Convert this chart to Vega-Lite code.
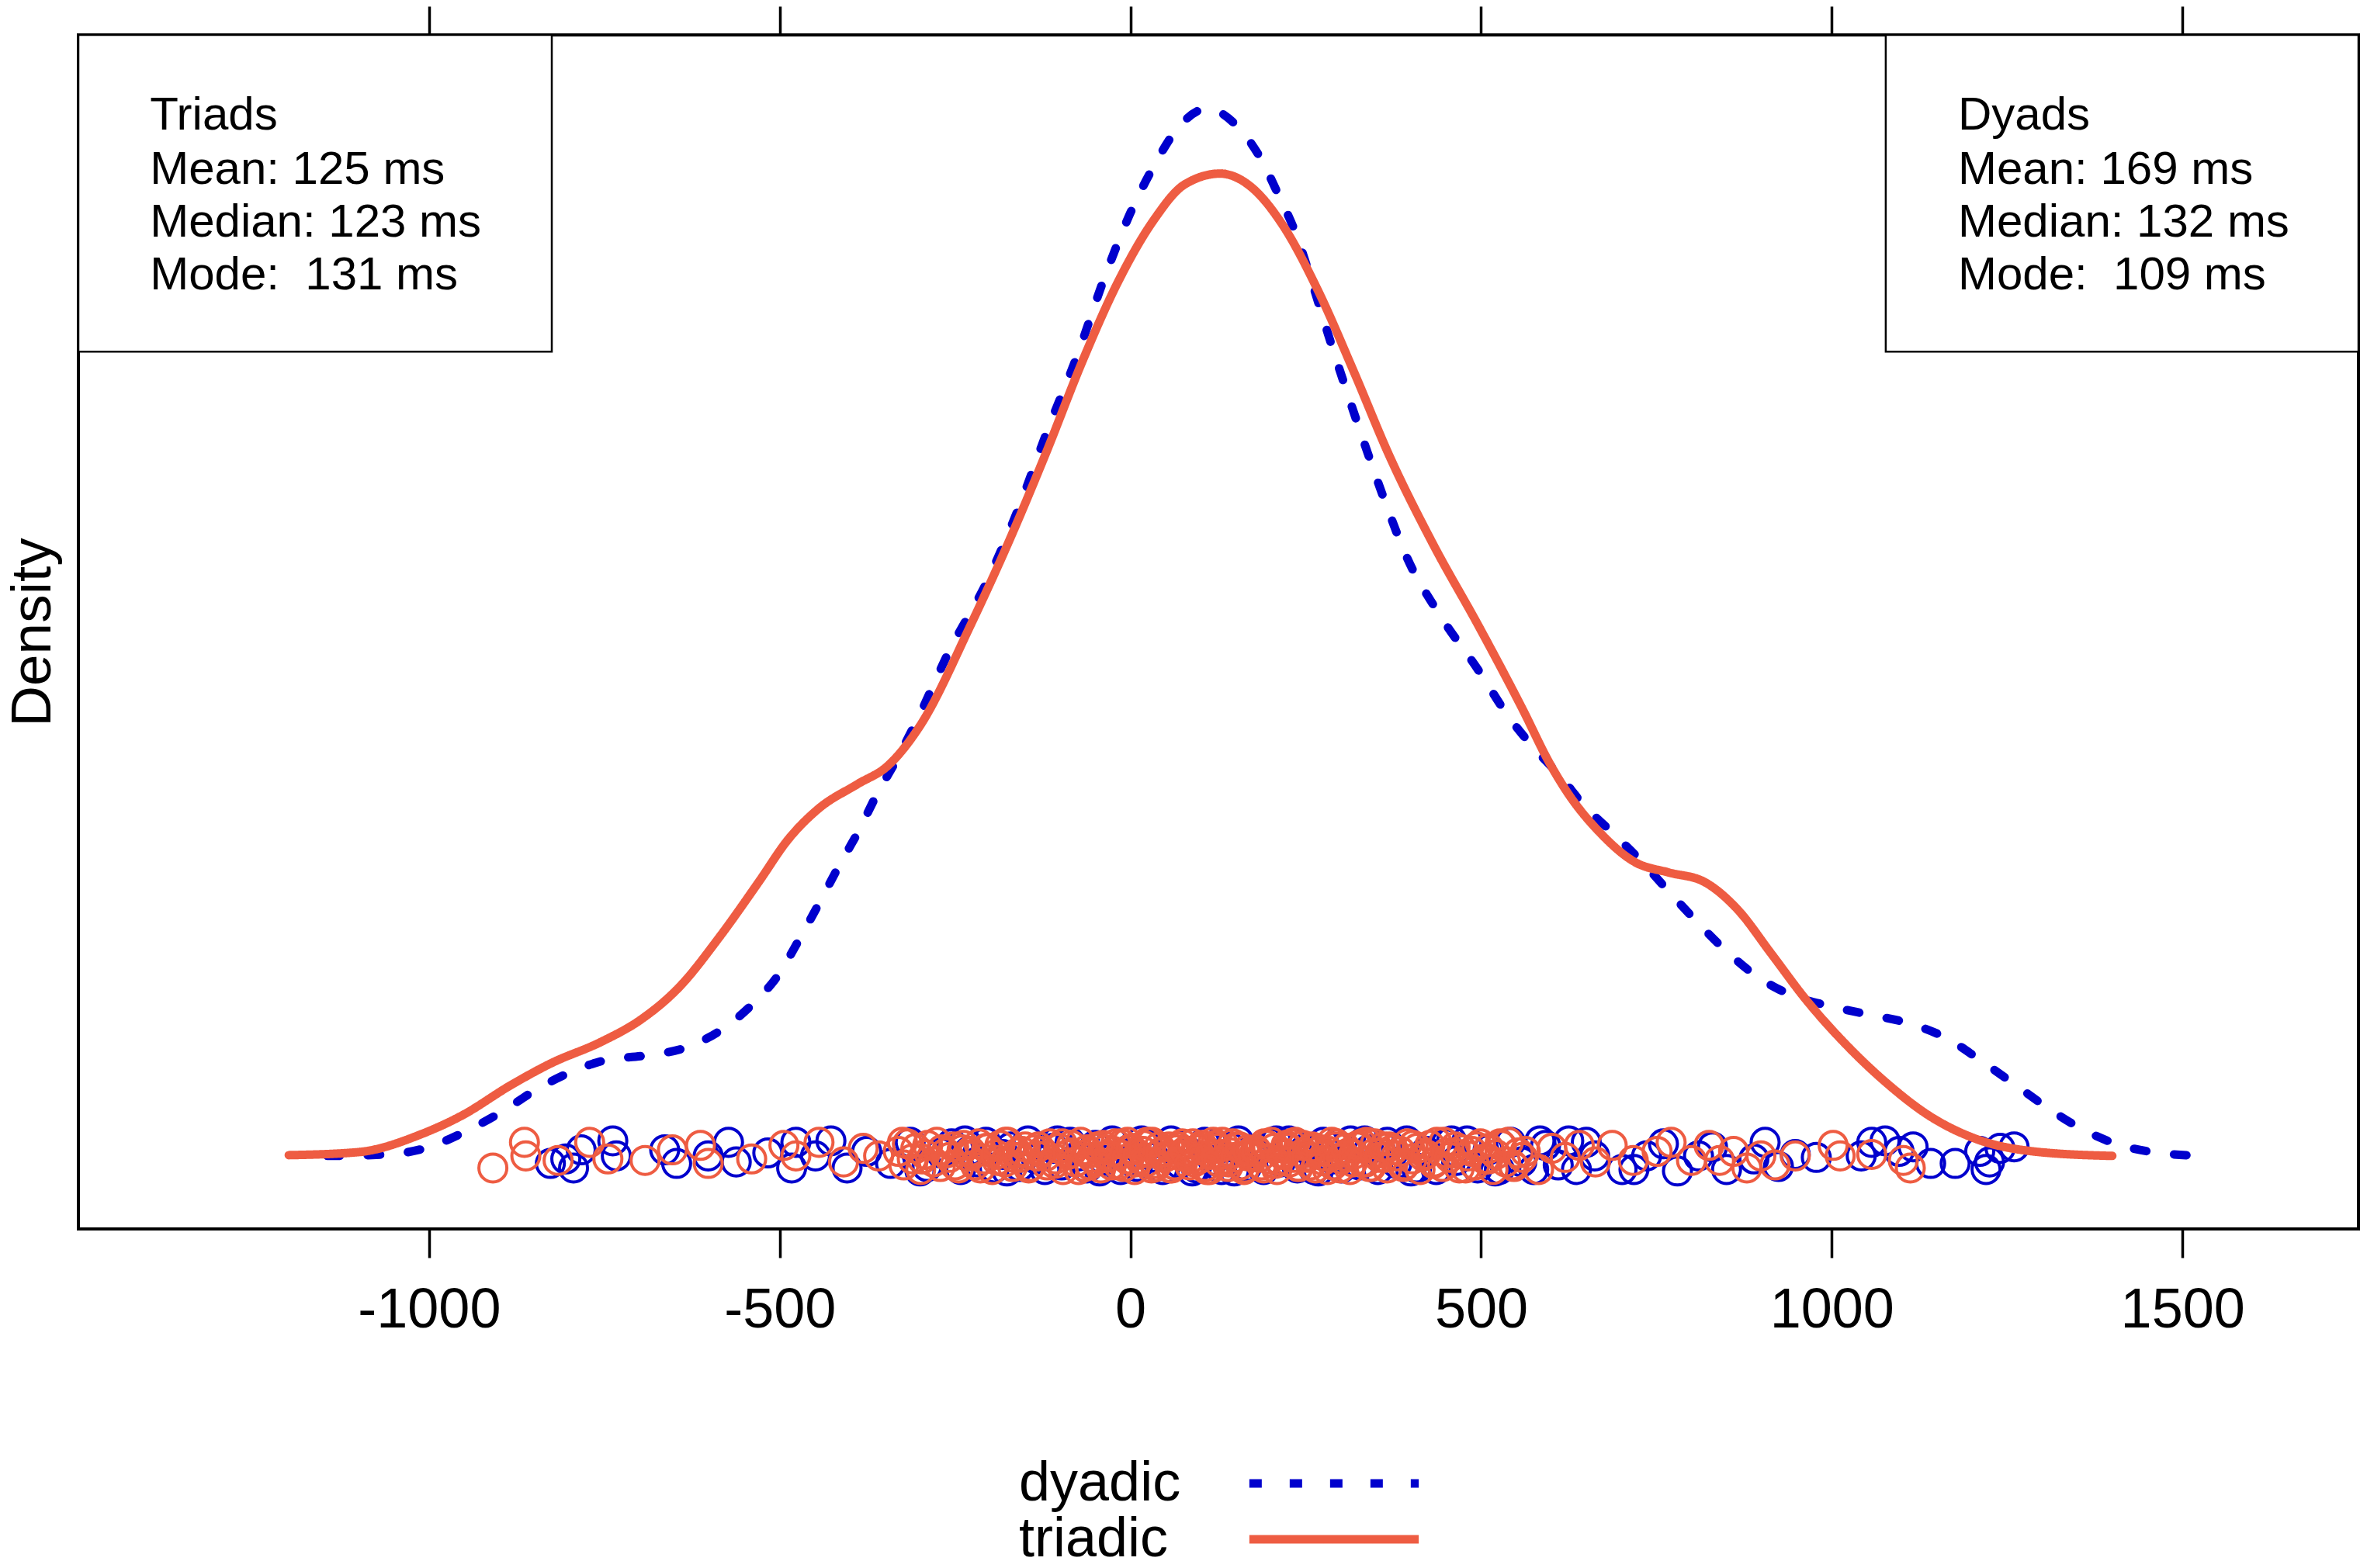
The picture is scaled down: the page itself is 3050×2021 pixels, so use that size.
{
  "$schema": "https://vega.github.io/schema/vega-lite/v6.json",
  "width": 2938,
  "height": 1539,
  "autosize": "none",
  "padding": {"left": 101, "top": 45, "right": 11, "bottom": 437},
  "datasets": {
    "boxes": [
      {"x0": -1500, "x1": -825, "y0": 533, "y1": 742.9},
      {"x0": 1077, "x1": 1751, "y0": 533, "y1": 742.9}
    ],
    "notes": [
      {"t": "Triads", "x": -1398, "y": 680},
      {"t": "Mean: 125 ms", "x": -1398, "y": 644},
      {"t": "Median: 123 ms", "x": -1398, "y": 609},
      {"t": "Mode:\u00a0 131 ms", "x": -1398, "y": 574},
      {"t": "Dyads", "x": 1180, "y": 680},
      {"t": "Mean: 169 ms", "x": 1180, "y": 644},
      {"t": "Median: 132 ms", "x": 1180, "y": 609},
      {"t": "Mode:\u00a0 109 ms", "x": 1180, "y": 574}
    ],
    "curves": [
      {"g": "dyadic", "x": -1145, "d": 0},
      {"g": "dyadic", "x": -1059, "d": 1},
      {"g": "dyadic", "x": -1002, "d": 5.6},
      {"g": "dyadic", "x": -946, "d": 16.7},
      {"g": "dyadic", "x": -897, "d": 29},
      {"g": "dyadic", "x": -847, "d": 44},
      {"g": "dyadic", "x": -798, "d": 55.5},
      {"g": "dyadic", "x": -749, "d": 63.4},
      {"g": "dyadic", "x": -692, "d": 66.5},
      {"g": "dyadic", "x": -636, "d": 71.5},
      {"g": "dyadic", "x": -586, "d": 82.7},
      {"g": "dyadic", "x": -540, "d": 100},
      {"g": "dyadic", "x": -502, "d": 120},
      {"g": "dyadic", "x": -473, "d": 142.8},
      {"g": "dyadic", "x": -442, "d": 169},
      {"g": "dyadic", "x": -414, "d": 193.5},
      {"g": "dyadic", "x": -389, "d": 214},
      {"g": "dyadic", "x": -361, "d": 240},
      {"g": "dyadic", "x": -334, "d": 262},
      {"g": "dyadic", "x": -304, "d": 289},
      {"g": "dyadic", "x": -259, "d": 333.9},
      {"g": "dyadic", "x": -202, "d": 383},
      {"g": "dyadic", "x": -158, "d": 431},
      {"g": "dyadic", "x": -120, "d": 478.6},
      {"g": "dyadic", "x": -75, "d": 531.5},
      {"g": "dyadic", "x": -37, "d": 582},
      {"g": "dyadic", "x": 1, "d": 626},
      {"g": "dyadic", "x": 33, "d": 655.6},
      {"g": "dyadic", "x": 64, "d": 679},
      {"g": "dyadic", "x": 109, "d": 694},
      {"g": "dyadic", "x": 153, "d": 682},
      {"g": "dyadic", "x": 185, "d": 661.6},
      {"g": "dyadic", "x": 210, "d": 638},
      {"g": "dyadic", "x": 236, "d": 611},
      {"g": "dyadic", "x": 255, "d": 584.7},
      {"g": "dyadic", "x": 286.6, "d": 537.7},
      {"g": "dyadic", "x": 324.6, "d": 484.4},
      {"g": "dyadic", "x": 362.8, "d": 434},
      {"g": "dyadic", "x": 395, "d": 395.8},
      {"g": "dyadic", "x": 439, "d": 360},
      {"g": "dyadic", "x": 496, "d": 322},
      {"g": "dyadic", "x": 541, "d": 289.9},
      {"g": "dyadic", "x": 573, "d": 271.6},
      {"g": "dyadic", "x": 614, "d": 251},
      {"g": "dyadic", "x": 646, "d": 232.6},
      {"g": "dyadic", "x": 687, "d": 214.3},
      {"g": "dyadic", "x": 727.5, "d": 195.8},
      {"g": "dyadic", "x": 767.7, "d": 175.2},
      {"g": "dyadic", "x": 808.6, "d": 154.7},
      {"g": "dyadic", "x": 849, "d": 136},
      {"g": "dyadic", "x": 897, "d": 117.8},
      {"g": "dyadic", "x": 946, "d": 106},
      {"g": "dyadic", "x": 995, "d": 99.5},
      {"g": "dyadic", "x": 1052, "d": 93.7},
      {"g": "dyadic", "x": 1109, "d": 88},
      {"g": "dyadic", "x": 1165, "d": 77.7},
      {"g": "dyadic", "x": 1214, "d": 62.7},
      {"g": "dyadic", "x": 1263, "d": 46.7},
      {"g": "dyadic", "x": 1311, "d": 30.8},
      {"g": "dyadic", "x": 1360, "d": 17},
      {"g": "dyadic", "x": 1408, "d": 7.6},
      {"g": "dyadic", "x": 1466, "d": 2},
      {"g": "dyadic", "x": 1530, "d": 0},
      {"g": "triadic", "x": -1200, "d": 0.5},
      {"g": "triadic", "x": -1101, "d": 2.5},
      {"g": "triadic", "x": -1010, "d": 14.6},
      {"g": "triadic", "x": -953, "d": 26.8},
      {"g": "triadic", "x": -883, "d": 47},
      {"g": "triadic", "x": -826, "d": 61.4},
      {"g": "triadic", "x": -755, "d": 75.5},
      {"g": "triadic", "x": -699, "d": 90},
      {"g": "triadic", "x": -643, "d": 112},
      {"g": "triadic", "x": -586, "d": 145},
      {"g": "triadic", "x": -530, "d": 181.5},
      {"g": "triadic", "x": -488, "d": 209.7},
      {"g": "triadic", "x": -445, "d": 230},
      {"g": "triadic", "x": -389, "d": 246.4},
      {"g": "triadic", "x": -346, "d": 258.5},
      {"g": "triadic", "x": -300, "d": 285},
      {"g": "triadic", "x": -228, "d": 351.6},
      {"g": "triadic", "x": -170, "d": 410.7},
      {"g": "triadic", "x": -119.5, "d": 466.8},
      {"g": "triadic", "x": -69, "d": 526},
      {"g": "triadic", "x": -18, "d": 578.9},
      {"g": "triadic", "x": 33, "d": 620},
      {"g": "triadic", "x": 77, "d": 643.7},
      {"g": "triadic", "x": 128, "d": 651},
      {"g": "triadic", "x": 172.5, "d": 642},
      {"g": "triadic", "x": 217, "d": 617},
      {"g": "triadic", "x": 268, "d": 573},
      {"g": "triadic", "x": 318.6, "d": 519.7},
      {"g": "triadic", "x": 369.5, "d": 463.7},
      {"g": "triadic", "x": 432.5, "d": 404.6},
      {"g": "triadic", "x": 496, "d": 351.6},
      {"g": "triadic", "x": 559.7, "d": 295.6},
      {"g": "triadic", "x": 598, "d": 260},
      {"g": "triadic", "x": 621.7, "d": 241.8},
      {"g": "triadic", "x": 670, "d": 214},
      {"g": "triadic", "x": 719, "d": 194.8},
      {"g": "triadic", "x": 767.7, "d": 187.8},
      {"g": "triadic", "x": 816.6, "d": 182},
      {"g": "triadic", "x": 865, "d": 163.7},
      {"g": "triadic", "x": 914, "d": 133.9},
      {"g": "triadic", "x": 962.5, "d": 104},
      {"g": "triadic", "x": 1019.5, "d": 74.2},
      {"g": "triadic", "x": 1076.5, "d": 49},
      {"g": "triadic", "x": 1141, "d": 26},
      {"g": "triadic", "x": 1206, "d": 11.2},
      {"g": "triadic", "x": 1287, "d": 3},
      {"g": "triadic", "x": 1400, "d": 0}
    ],
    "rug": [
      {"g": "dyadic", "x": -827, "j": -5}, {"g": "dyadic", "x": -805, "j": -2}, {"g": "dyadic", "x": -794, "j": -8},
      {"g": "dyadic", "x": -783, "j": 4}, {"g": "dyadic", "x": -738, "j": 10}, {"g": "dyadic", "x": -733, "j": 0},
      {"g": "dyadic", "x": -664, "j": 4}, {"g": "dyadic", "x": -647, "j": -5}, {"g": "dyadic", "x": -602, "j": 0},
      {"g": "dyadic", "x": -573, "j": 9}, {"g": "dyadic", "x": -562, "j": -4}, {"g": "dyadic", "x": -517, "j": 2},
      {"g": "dyadic", "x": -483, "j": -8}, {"g": "dyadic", "x": -477, "j": 9}, {"g": "dyadic", "x": -449, "j": 0},
      {"g": "dyadic", "x": -427, "j": 10}, {"g": "dyadic", "x": -404, "j": -8}, {"g": "dyadic", "x": -376, "j": 3},
      {"g": "dyadic", "x": -342, "j": -5}, {"g": "dyadic", "x": -314, "j": 9}, {"g": "dyadic", "x": -290, "j": -7},
      {"g": "dyadic", "x": -270, "j": 2}, {"g": "dyadic", "x": -255, "j": 8}, {"g": "dyadic", "x": -242, "j": -9},
      {"g": "dyadic", "x": -230, "j": 3}, {"g": "dyadic", "x": -218, "j": -4}, {"g": "dyadic", "x": -206, "j": 9},
      {"g": "dyadic", "x": -194, "j": -8}, {"g": "dyadic", "x": -182, "j": 1}, {"g": "dyadic", "x": -170, "j": 6},
      {"g": "dyadic", "x": -158, "j": -7}, {"g": "dyadic", "x": -146, "j": 10}, {"g": "dyadic", "x": -134, "j": -2},
      {"g": "dyadic", "x": -122, "j": -9}, {"g": "dyadic", "x": -110, "j": 5}, {"g": "dyadic", "x": -98, "j": -6},
      {"g": "dyadic", "x": -86, "j": 9}, {"g": "dyadic", "x": -74, "j": 0}, {"g": "dyadic", "x": -62, "j": -8},
      {"g": "dyadic", "x": -50, "j": 7}, {"g": "dyadic", "x": -38, "j": -3}, {"g": "dyadic", "x": -26, "j": 10},
      {"g": "dyadic", "x": -14, "j": -9}, {"g": "dyadic", "x": -2, "j": 4}, {"g": "dyadic", "x": 10, "j": -7},
      {"g": "dyadic", "x": 22, "j": 8}, {"g": "dyadic", "x": 34, "j": -1}, {"g": "dyadic", "x": 46, "j": -9},
      {"g": "dyadic", "x": 58, "j": 10}, {"g": "dyadic", "x": 70, "j": -5}, {"g": "dyadic", "x": 82, "j": 3},
      {"g": "dyadic", "x": 94, "j": -8}, {"g": "dyadic", "x": 106, "j": 9}, {"g": "dyadic", "x": 118, "j": -3},
      {"g": "dyadic", "x": 130, "j": -9}, {"g": "dyadic", "x": 142, "j": 6}, {"g": "dyadic", "x": 154, "j": 10},
      {"g": "dyadic", "x": 166, "j": -7}, {"g": "dyadic", "x": 178, "j": 2}, {"g": "dyadic", "x": 190, "j": -9},
      {"g": "dyadic", "x": 202, "j": 8}, {"g": "dyadic", "x": 214, "j": -4}, {"g": "dyadic", "x": 226, "j": 10},
      {"g": "dyadic", "x": 238, "j": -8}, {"g": "dyadic", "x": 250, "j": 5}, {"g": "dyadic", "x": 262, "j": -9},
      {"g": "dyadic", "x": 275, "j": 9}, {"g": "dyadic", "x": 288, "j": -2}, {"g": "dyadic", "x": 301, "j": -8},
      {"g": "dyadic", "x": 314, "j": 10}, {"g": "dyadic", "x": 327, "j": -6}, {"g": "dyadic", "x": 340, "j": 4},
      {"g": "dyadic", "x": 353, "j": -9}, {"g": "dyadic", "x": 366, "j": 9}, {"g": "dyadic", "x": 380, "j": -5},
      {"g": "dyadic", "x": 394, "j": 10}, {"g": "dyadic", "x": 408, "j": -8}, {"g": "dyadic", "x": 422, "j": 3},
      {"g": "dyadic", "x": 436, "j": -9}, {"g": "dyadic", "x": 450, "j": 8}, {"g": "dyadic", "x": 465, "j": -3},
      {"g": "dyadic", "x": 480, "j": 10}, {"g": "dyadic", "x": 495, "j": -8}, {"g": "dyadic", "x": 510, "j": 4},
      {"g": "dyadic", "x": 526, "j": -9}, {"g": "dyadic", "x": 542, "j": 9}, {"g": "dyadic", "x": 558, "j": -4},
      {"g": "dyadic", "x": 575, "j": -9}, {"g": "dyadic", "x": 592, "j": 7}, {"g": "dyadic", "x": 610, "j": -6},
      {"g": "dyadic", "x": 625, "j": 10}, {"g": "dyadic", "x": 636, "j": -9}, {"g": "dyadic", "x": 662, "j": 0},
      {"g": "dyadic", "x": 701, "j": -9}, {"g": "dyadic", "x": 736, "j": 0}, {"g": "dyadic", "x": 780, "j": -10},
      {"g": "dyadic", "x": 810, "j": 0}, {"g": "dyadic", "x": 850, "j": -9}, {"g": "dyadic", "x": 889, "j": -2},
      {"g": "dyadic", "x": 924, "j": -7}, {"g": "dyadic", "x": 948, "j": 1}, {"g": "dyadic", "x": 978, "j": -1},
      {"g": "dyadic", "x": 1042, "j": 0}, {"g": "dyadic", "x": 1057, "j": 9}, {"g": "dyadic", "x": 1076, "j": 10},
      {"g": "dyadic", "x": 1096, "j": 3}, {"g": "dyadic", "x": 1116, "j": 6}, {"g": "dyadic", "x": 1141, "j": -5},
      {"g": "dyadic", "x": 1176, "j": -5}, {"g": "dyadic", "x": 1211, "j": 3}, {"g": "dyadic", "x": 1220, "j": -9},
      {"g": "dyadic", "x": 1225, "j": -4}, {"g": "dyadic", "x": 1240, "j": 5}, {"g": "dyadic", "x": 1260, "j": 6},
      {"g": "dyadic", "x": -300, "j": -10}, {"g": "dyadic", "x": -236, "j": 10}, {"g": "dyadic", "x": -176, "j": -10},
      {"g": "dyadic", "x": -104, "j": 10}, {"g": "dyadic", "x": -44, "j": -10}, {"g": "dyadic", "x": 16, "j": 10},
      {"g": "dyadic", "x": 88, "j": -10}, {"g": "dyadic", "x": 148, "j": -10}, {"g": "dyadic", "x": 208, "j": 10},
      {"g": "dyadic", "x": 268, "j": -10}, {"g": "dyadic", "x": 334, "j": 10}, {"g": "dyadic", "x": 400, "j": -10},
      {"g": "dyadic", "x": 458, "j": 10}, {"g": "dyadic", "x": 520, "j": -10}, {"g": "dyadic", "x": 584, "j": 10},
      {"g": "dyadic", "x": 650, "j": 9}, {"g": "dyadic", "x": 718, "j": -9}, {"g": "dyadic", "x": 760, "j": 8},
      {"g": "dyadic", "x": 830, "j": 6}, {"g": "dyadic", "x": 905, "j": 9},
      {"g": "triadic", "x": -909, "j": -8}, {"g": "triadic", "x": -864, "j": 9}, {"g": "triadic", "x": -862, "j": 0},
      {"g": "triadic", "x": -816, "j": -3}, {"g": "triadic", "x": -771, "j": 9}, {"g": "triadic", "x": -745, "j": -2},
      {"g": "triadic", "x": -692, "j": -3}, {"g": "triadic", "x": -653, "j": 4}, {"g": "triadic", "x": -613, "j": 7},
      {"g": "triadic", "x": -602, "j": -5}, {"g": "triadic", "x": -540, "j": -2}, {"g": "triadic", "x": -494, "j": 7},
      {"g": "triadic", "x": -477, "j": 0}, {"g": "triadic", "x": -444, "j": 9}, {"g": "triadic", "x": -409, "j": -4},
      {"g": "triadic", "x": -381, "j": 5}, {"g": "triadic", "x": -359, "j": 0}, {"g": "triadic", "x": -325, "j": 9},
      {"g": "triadic", "x": -297, "j": -2}, {"g": "triadic", "x": -269, "j": 4}, {"g": "triadic", "x": -250, "j": -6},
      {"g": "triadic", "x": -238, "j": 7}, {"g": "triadic", "x": -225, "j": 1}, {"g": "triadic", "x": -214, "j": -8},
      {"g": "triadic", "x": -203, "j": 5}, {"g": "triadic", "x": -190, "j": -3}, {"g": "triadic", "x": -178, "j": 9},
      {"g": "triadic", "x": -166, "j": -1}, {"g": "triadic", "x": -155, "j": 3}, {"g": "triadic", "x": -143, "j": -7},
      {"g": "triadic", "x": -131, "j": 6}, {"g": "triadic", "x": -120, "j": 0}, {"g": "triadic", "x": -108, "j": -5},
      {"g": "triadic", "x": -97, "j": 8}, {"g": "triadic", "x": -85, "j": 2}, {"g": "triadic", "x": -74, "j": -9},
      {"g": "triadic", "x": -62, "j": 4}, {"g": "triadic", "x": -58, "j": -6}, {"g": "triadic", "x": -50, "j": -3},
      {"g": "triadic", "x": -45, "j": 5}, {"g": "triadic", "x": -39, "j": 7}, {"g": "triadic", "x": -33, "j": -1},
      {"g": "triadic", "x": -27, "j": -6}, {"g": "triadic", "x": -21, "j": 8}, {"g": "triadic", "x": -15, "j": 1},
      {"g": "triadic", "x": -9, "j": -7}, {"g": "triadic", "x": -4, "j": 9}, {"g": "triadic", "x": 2, "j": 4},
      {"g": "triadic", "x": 7, "j": -4}, {"g": "triadic", "x": 13, "j": -2}, {"g": "triadic", "x": 18, "j": 3},
      {"g": "triadic", "x": 24, "j": 9}, {"g": "triadic", "x": 30, "j": -8}, {"g": "triadic", "x": 35, "j": -5},
      {"g": "triadic", "x": 41, "j": 6}, {"g": "triadic", "x": 46, "j": 3}, {"g": "triadic", "x": 52, "j": 0},
      {"g": "triadic", "x": 57, "j": -8}, {"g": "triadic", "x": 63, "j": -6}, {"g": "triadic", "x": 68, "j": 6},
      {"g": "triadic", "x": 74, "j": 8}, {"g": "triadic", "x": 80, "j": 1}, {"g": "triadic", "x": 85, "j": -2},
      {"g": "triadic", "x": 91, "j": -4}, {"g": "triadic", "x": 96, "j": 4}, {"g": "triadic", "x": 102, "j": 7},
      {"g": "triadic", "x": 107, "j": -7}, {"g": "triadic", "x": 113, "j": -9}, {"g": "triadic", "x": 118, "j": 9},
      {"g": "triadic", "x": 124, "j": 5}, {"g": "triadic", "x": 129, "j": 1}, {"g": "triadic", "x": 135, "j": -2},
      {"g": "triadic", "x": 140, "j": -4}, {"g": "triadic", "x": 146, "j": 8}, {"g": "triadic", "x": 151, "j": 6},
      {"g": "triadic", "x": 157, "j": -6}, {"g": "triadic", "x": 162, "j": -9}, {"g": "triadic", "x": 168, "j": 0},
      {"g": "triadic", "x": 173, "j": 3}, {"g": "triadic", "x": 179, "j": 4}, {"g": "triadic", "x": 184, "j": -1},
      {"g": "triadic", "x": 190, "j": -8}, {"g": "triadic", "x": 195, "j": 7}, {"g": "triadic", "x": 201, "j": 9},
      {"g": "triadic", "x": 206, "j": -5}, {"g": "triadic", "x": 212, "j": -3}, {"g": "triadic", "x": 217, "j": 2},
      {"g": "triadic", "x": 223, "j": 5}, {"g": "triadic", "x": 229, "j": 8}, {"g": "triadic", "x": 234, "j": -1},
      {"g": "triadic", "x": 240, "j": -7}, {"g": "triadic", "x": 246, "j": 7}, {"g": "triadic", "x": 251, "j": 0},
      {"g": "triadic", "x": 257, "j": -6}, {"g": "triadic", "x": 263, "j": 5}, {"g": "triadic", "x": 269, "j": 3},
      {"g": "triadic", "x": 275, "j": -3}, {"g": "triadic", "x": 281, "j": -9}, {"g": "triadic", "x": 287, "j": 9},
      {"g": "triadic", "x": 293, "j": 6}, {"g": "triadic", "x": 299, "j": -8}, {"g": "triadic", "x": 305, "j": 0},
      {"g": "triadic", "x": 311, "j": 2}, {"g": "triadic", "x": 317, "j": -4}, {"g": "triadic", "x": 323, "j": 6},
      {"g": "triadic", "x": 330, "j": 8}, {"g": "triadic", "x": 336, "j": -4}, {"g": "triadic", "x": 343, "j": -7},
      {"g": "triadic", "x": 349, "j": 8}, {"g": "triadic", "x": 356, "j": 2}, {"g": "triadic", "x": 362, "j": -1},
      {"g": "triadic", "x": 369, "j": 6}, {"g": "triadic", "x": 375, "j": 4}, {"g": "triadic", "x": 389, "j": -7},
      {"g": "triadic", "x": 403, "j": 7}, {"g": "triadic", "x": 417, "j": 0}, {"g": "triadic", "x": 432, "j": -5},
      {"g": "triadic", "x": 447, "j": 9}, {"g": "triadic", "x": 462, "j": 2}, {"g": "triadic", "x": 478, "j": -8},
      {"g": "triadic", "x": 494, "j": 6}, {"g": "triadic", "x": 510, "j": -2}, {"g": "triadic", "x": 527, "j": 8},
      {"g": "triadic", "x": 545, "j": -6}, {"g": "triadic", "x": 563, "j": 3}, {"g": "triadic", "x": 582, "j": -9},
      {"g": "triadic", "x": 601, "j": 5}, {"g": "triadic", "x": 620, "j": -1}, {"g": "triadic", "x": 640, "j": 7},
      {"g": "triadic", "x": 663, "j": -4}, {"g": "triadic", "x": 687, "j": 7}, {"g": "triadic", "x": 717, "j": -3},
      {"g": "triadic", "x": 751, "j": 3}, {"g": "triadic", "x": 771, "j": 9}, {"g": "triadic", "x": 800, "j": -3},
      {"g": "triadic", "x": 825, "j": 7}, {"g": "triadic", "x": 840, "j": -3}, {"g": "triadic", "x": 860, "j": 3},
      {"g": "triadic", "x": 879, "j": -8}, {"g": "triadic", "x": 899, "j": 0}, {"g": "triadic", "x": 919, "j": -6},
      {"g": "triadic", "x": 948, "j": 0}, {"g": "triadic", "x": 1002, "j": 7}, {"g": "triadic", "x": 1012, "j": 0},
      {"g": "triadic", "x": 1057, "j": 1}, {"g": "triadic", "x": 1102, "j": -3}, {"g": "triadic", "x": 1112, "j": -8},
      {"g": "triadic", "x": -331, "j": 3}, {"g": "triadic", "x": -323, "j": -6}, {"g": "triadic", "x": -318, "j": 8},
      {"g": "triadic", "x": -311, "j": -2}, {"g": "triadic", "x": -306, "j": 5}, {"g": "triadic", "x": -299, "j": -9},
      {"g": "triadic", "x": -293, "j": 1}, {"g": "triadic", "x": -289, "j": 7}, {"g": "triadic", "x": -281, "j": -4},
      {"g": "triadic", "x": -276, "j": 9}, {"g": "triadic", "x": -271, "j": -7}, {"g": "triadic", "x": -263, "j": 2},
      {"g": "triadic", "x": -258, "j": -1}, {"g": "triadic", "x": -252, "j": 6}, {"g": "triadic", "x": -245, "j": -8},
      {"g": "triadic", "x": -240, "j": 4}, {"g": "triadic", "x": -233, "j": 0}, {"g": "triadic", "x": -228, "j": 3},
      {"g": "triadic", "x": -221, "j": -6}, {"g": "triadic", "x": -216, "j": 8}, {"g": "triadic", "x": -209, "j": -2},
      {"g": "triadic", "x": -205, "j": 5}, {"g": "triadic", "x": -197, "j": -9}, {"g": "triadic", "x": -192, "j": 1},
      {"g": "triadic", "x": -186, "j": 7}, {"g": "triadic", "x": -179, "j": -4}, {"g": "triadic", "x": -175, "j": 9},
      {"g": "triadic", "x": -168, "j": -7}, {"g": "triadic", "x": -161, "j": 2}, {"g": "triadic", "x": -157, "j": -1},
      {"g": "triadic", "x": -150, "j": 6}, {"g": "triadic", "x": -145, "j": -8}, {"g": "triadic", "x": -137, "j": 4},
      {"g": "triadic", "x": -133, "j": 0}, {"g": "triadic", "x": -126, "j": 3}, {"g": "triadic", "x": -119, "j": -6},
      {"g": "triadic", "x": -115, "j": 8}, {"g": "triadic", "x": -107, "j": -2}, {"g": "triadic", "x": -102, "j": 5},
      {"g": "triadic", "x": -96, "j": -9}, {"g": "triadic", "x": -89, "j": 1}, {"g": "triadic", "x": -84, "j": 7},
      {"g": "triadic", "x": -78, "j": -4}, {"g": "triadic", "x": -71, "j": 9}, {"g": "triadic", "x": -66, "j": -7},
      {"g": "triadic", "x": -59, "j": 2}, {"g": "triadic", "x": -55, "j": -1}, {"g": "triadic", "x": -47, "j": 6},
      {"g": "triadic", "x": -42, "j": -8}, {"g": "triadic", "x": -36, "j": 4}, {"g": "triadic", "x": -29, "j": 0},
      {"g": "triadic", "x": -24, "j": 3}, {"g": "triadic", "x": -17, "j": -6}, {"g": "triadic", "x": -12, "j": 8},
      {"g": "triadic", "x": -5, "j": -2}, {"g": "triadic", "x": 1, "j": 5}, {"g": "triadic", "x": 6, "j": -9},
      {"g": "triadic", "x": 11, "j": 1}, {"g": "triadic", "x": 19, "j": 7}, {"g": "triadic", "x": 23, "j": -4},
      {"g": "triadic", "x": 31, "j": 9}, {"g": "triadic", "x": 36, "j": -7}, {"g": "triadic", "x": 43, "j": 2},
      {"g": "triadic", "x": 48, "j": -1}, {"g": "triadic", "x": 55, "j": 6}, {"g": "triadic", "x": 59, "j": -8},
      {"g": "triadic", "x": 66, "j": 4}, {"g": "triadic", "x": 73, "j": 0}, {"g": "triadic", "x": 78, "j": 3},
      {"g": "triadic", "x": 84, "j": -6}, {"g": "triadic", "x": 89, "j": 8}, {"g": "triadic", "x": 97, "j": -2},
      {"g": "triadic", "x": 101, "j": 5}, {"g": "triadic", "x": 109, "j": -9}, {"g": "triadic", "x": 114, "j": 1},
      {"g": "triadic", "x": 121, "j": 7}, {"g": "triadic", "x": 126, "j": -4}, {"g": "triadic", "x": 131, "j": 9},
      {"g": "triadic", "x": 139, "j": -7}, {"g": "triadic", "x": 143, "j": 2}, {"g": "triadic", "x": 150, "j": -1},
      {"g": "triadic", "x": 156, "j": 6}, {"g": "triadic", "x": 163, "j": -8}, {"g": "triadic", "x": 167, "j": 4},
      {"g": "triadic", "x": 175, "j": 0}, {"g": "triadic", "x": 180, "j": 3}, {"g": "triadic", "x": 187, "j": -6},
      {"g": "triadic", "x": 191, "j": 8}, {"g": "triadic", "x": 198, "j": -2}, {"g": "triadic", "x": 205, "j": 5},
      {"g": "triadic", "x": 209, "j": -9}, {"g": "triadic", "x": 216, "j": 1}, {"g": "triadic", "x": 222, "j": 7},
      {"g": "triadic", "x": 227, "j": -4}, {"g": "triadic", "x": 235, "j": 9}, {"g": "triadic", "x": 239, "j": -7},
      {"g": "triadic", "x": 247, "j": 2}, {"g": "triadic", "x": 252, "j": -1}, {"g": "triadic", "x": 259, "j": 6},
      {"g": "triadic", "x": 264, "j": -8}, {"g": "triadic", "x": 271, "j": 4}, {"g": "triadic", "x": 276, "j": 0},
      {"g": "triadic", "x": 283, "j": 3}, {"g": "triadic", "x": 289, "j": -6}, {"g": "triadic", "x": 294, "j": 8},
      {"g": "triadic", "x": 301, "j": -2}, {"g": "triadic", "x": 307, "j": 5}, {"g": "triadic", "x": 313, "j": -9},
      {"g": "triadic", "x": 318, "j": 1}, {"g": "triadic", "x": 325, "j": 7}, {"g": "triadic", "x": 331, "j": -4},
      {"g": "triadic", "x": 337, "j": 9}, {"g": "triadic", "x": 341, "j": -7}, {"g": "triadic", "x": 348, "j": 2},
      {"g": "triadic", "x": 355, "j": -1}, {"g": "triadic", "x": 361, "j": 6}, {"g": "triadic", "x": 366, "j": -8},
      {"g": "triadic", "x": 373, "j": 4}, {"g": "triadic", "x": 379, "j": 0}, {"g": "triadic", "x": 385, "j": 3},
      {"g": "triadic", "x": 391, "j": -6}, {"g": "triadic", "x": 395, "j": 8}, {"g": "triadic", "x": 402, "j": -2},
      {"g": "triadic", "x": 409, "j": 5}, {"g": "triadic", "x": 413, "j": -9}, {"g": "triadic", "x": 421, "j": 1},
      {"g": "triadic", "x": 427, "j": 7}, {"g": "triadic", "x": 433, "j": -4}, {"g": "triadic", "x": 437, "j": 9},
      {"g": "triadic", "x": 445, "j": -7}, {"g": "triadic", "x": 451, "j": 2}, {"g": "triadic", "x": 455, "j": -1},
      {"g": "triadic", "x": 463, "j": 6}, {"g": "triadic", "x": 469, "j": -8}, {"g": "triadic", "x": 473, "j": 4},
      {"g": "triadic", "x": 481, "j": 0}, {"g": "triadic", "x": 487, "j": 3}, {"g": "triadic", "x": 491, "j": -6},
      {"g": "triadic", "x": 499, "j": 8}, {"g": "triadic", "x": 505, "j": -2}, {"g": "triadic", "x": 511, "j": 5},
      {"g": "triadic", "x": 517, "j": -9}, {"g": "triadic", "x": 521, "j": 1}, {"g": "triadic", "x": 529, "j": 7},
      {"g": "triadic", "x": 535, "j": -4}, {"g": "triadic", "x": 539, "j": 9}, {"g": "triadic", "x": 547, "j": -7},
      {"g": "triadic", "x": 553, "j": 2}, {"g": "triadic", "x": 559, "j": -1}
    ]
  },
  "layer": [
    {
      "data": {"name": "boxes"},
      "mark": {"type": "rect", "fill": "white", "stroke": "black", "strokeWidth": 2.5},
      "encoding": {
        "x": {
          "field": "x0", "type": "quantitative",
          "scale": {"domain": [-1500, 1751], "nice": false, "zero": false},
          "axis": {"orient": "bottom", "values": [-1000, -500, 0, 500, 1000, 1500], "labelExpr": "'' + datum.value", "labelFont": "Liberation Sans", "labelFontSize": 72, "labelColor": "black", "labelPadding": 32, "labelLimit": 0, "labelFlush": false, "labelOverlap": false, "tickSize": 37, "tickWidth": 3.5, "tickColor": "black", "domain": false, "grid": false, "title": null}
        },
        "x2": {"field": "x1"},
        "y": {
          "field": "y0", "type": "quantitative",
          "scale": {"domain": [-48.4, 742.9], "nice": false, "zero": false},
          "axis": {"title": "Density", "titleFont": "Liberation Sans", "titleFontSize": 73, "titleFontWeight": "normal", "titleColor": "black", "titlePadding": 22, "labels": false, "ticks": false, "domain": false, "grid": false}
        },
        "y2": {"field": "y1"}
      }
    },
    {
      "data": {"name": "notes"},
      "mark": {"type": "text", "align": "left", "baseline": "alphabetic", "font": "Liberation Sans", "fontSize": 60, "color": "black"},
      "encoding": {
        "x": {"field": "x", "type": "quantitative", "axis": null},
        "y": {"field": "y", "type": "quantitative"},
        "text": {"field": "t"}
      }
    },
    {
      "data": {"name": "rug"},
      "mark": {"type": "point", "shape": "circle", "filled": false, "size": 1300, "strokeWidth": 4, "opacity": 1},
      "encoding": {
        "x": {
          "field": "x", "type": "quantitative",
          "axis": {"orient": "top", "values": [-1000, -500, 0, 500, 1000, 1500], "labels": false, "ticks": true, "tickSize": 37, "tickWidth": 3.5, "tickColor": "black", "domain": false, "grid": false, "title": null}
        },
        "y": {"field": "j", "type": "quantitative"},
        "color": {
          "field": "g", "type": "nominal",
          "scale": {"domain": ["dyadic", "triadic"], "range": ["#0000CD", "#EE5C42"]}
        }
      }
    },
    {
      "data": {"name": "curves"},
      "mark": {"type": "line", "interpolate": "monotone", "strokeWidth": 11, "strokeCap": "round"},
      "encoding": {
        "x": {"field": "x", "type": "quantitative", "axis": null},
        "y": {"field": "d", "type": "quantitative"},
        "color": {
          "field": "g", "type": "nominal",
          "scale": {"domain": ["dyadic", "triadic"], "range": ["#0000CD", "#EE5C42"]},
          "legend": {"orient": "none", "legendX": 1582, "legendY": 1831, "title": null, "symbolType": "M-3.7,0H3.7", "symbolSize": 3481, "symbolStrokeWidth": 11, "symbolFillColor": "transparent", "labelFont": "Liberation Sans", "labelFontSize": 72, "labelColor": "black", "labelOffset": -442, "labelLimit": 0, "rowPadding": -2, "padding": 0}
        },
        "strokeDash": {
          "field": "g", "type": "nominal",
          "scale": {"domain": ["dyadic", "triadic"], "range": [[16, 36], [1, 0]]},
          "legend": {"orient": "none", "legendX": 1582, "legendY": 1831, "title": null, "symbolType": "M-3.7,0H3.7", "symbolSize": 3481, "symbolStrokeWidth": 11, "symbolFillColor": "transparent", "labelFont": "Liberation Sans", "labelFontSize": 72, "labelColor": "black", "labelOffset": -442, "labelLimit": 0, "rowPadding": -2, "padding": 0}
        }
      }
    }
  ],
  "resolve": {"axis": {"x": "independent"}},
  "config": {
    "font": "Liberation Sans",
    "view": {"stroke": "black", "strokeWidth": 4},
    "background": "white"
  }
}
